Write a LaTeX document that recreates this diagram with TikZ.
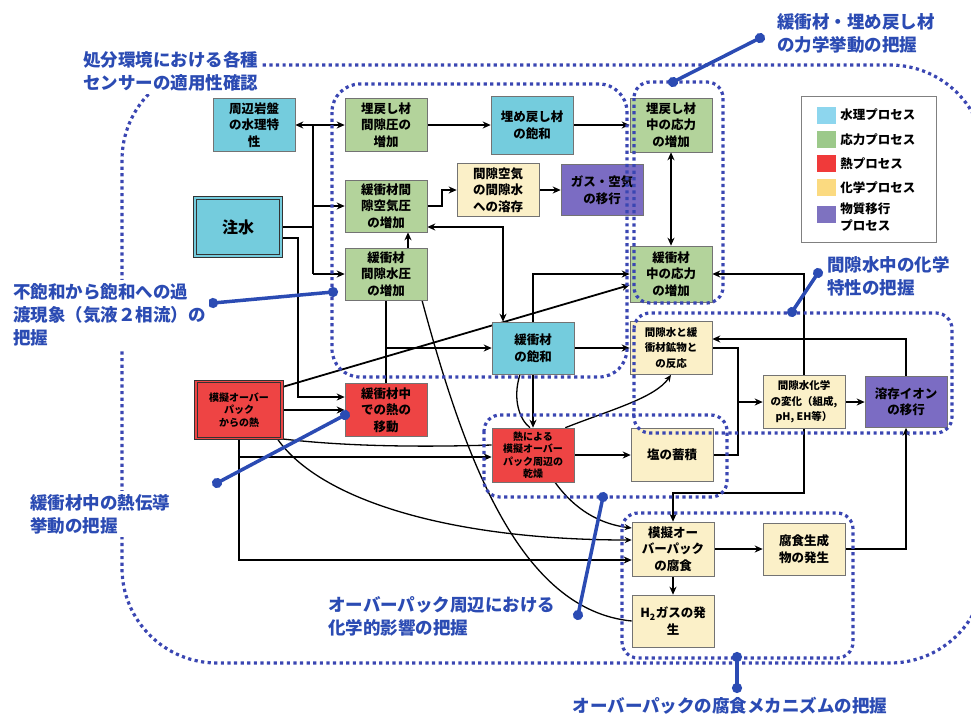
\documentclass[tikz,border=0pt]{standalone}
\usepackage{fontspec}
\setmainfont{Noto Sans CJK JP}
\usepackage{xcolor}
\usetikzlibrary{arrows.meta,backgrounds}

\definecolor{hydro}{HTML}{74CCDD}
\definecolor{mech}{HTML}{B3D39B}
\definecolor{heat}{HTML}{EE4444}
\definecolor{chemc}{HTML}{FBF0C8}
\definecolor{trans}{HTML}{7B6CC3}
\definecolor{keyhydro}{HTML}{8DD6EE}
\definecolor{keymech}{HTML}{9CC98A}
\definecolor{keyheat}{HTML}{F03A3A}
\definecolor{keychem}{HTML}{FBDA80}
\definecolor{keytrans}{HTML}{7E72C0}
\definecolor{dotblue}{HTML}{3A46B2}
\definecolor{labblue}{HTML}{2B4BB3}

\begin{document}
\begin{tikzpicture}[x=1pt,y=-1pt,
    proc/.style={draw=black!55, line width=0.6pt, minimum width=82pt, minimum height=53pt,
      inner sep=1pt, align=center, font=\fontsize{12.5}{16.5}\selectfont\bfseries},
    smalltxt/.style={font=\fontsize{10}{12.5}\selectfont\bfseries},
    lab/.style={fill=white, text=labblue, align=left, inner sep=3pt,
      font=\fontsize{17.5}{23}\selectfont\bfseries},
    conn/.style={line width=1.8pt},
    curv/.style={line width=1.3pt},
    arr/.style={conn, -{Stealth[length=8pt,width=7pt]}},
    darr/.style={conn, {Stealth[length=8pt,width=7pt]}-{Stealth[length=8pt,width=7pt]}},
    region/.style={draw=dotblue, line width=3.2pt, dash pattern=on 3.2pt off 3.4pt},
    pointer/.style={draw=labblue, line width=3.5pt, {Circle[length=10pt]}-{Circle[length=10pt]},
      shorten <=-5pt, shorten >=-5pt}]
\useasboundingbox (0,0) rectangle (971,718);

% processes
\node[proc, fill=hydro] (rock) at (254,125) {周辺岩盤\\の水理特\\性};
\node[proc, fill=hydro, minimum width=86pt, minimum height=58pt, draw=black!80, line width=0.8pt,
  double=hydro, double distance=1.5pt, font=\fontsize{16}{18}\selectfont\bfseries] (inj) at (238,227) {注水};
\node[proc, fill=mech] (bfpre) at (386,125) {埋戻し材\\間隙圧の\\増加};
\node[proc, fill=hydro, minimum height=58pt] (bfsat) at (532,125) {埋め戻し材\\の飽和};
\node[proc, fill=mech, minimum height=52pt] (bapre) at (386,206) {緩衝材間\\隙空気圧\\の増加};
\node[proc, fill=chemc] (diss) at (498,190) {間隙空気\\の間隙水\\への溶存};
\node[proc, fill=trans, minimum height=51pt] (gas) at (602,190) {ガス・空気\\の移行};
\node[proc, fill=mech, minimum height=52pt] (bwpre) at (386,274) {緩衝材\\間隙水圧\\の増加};
\node[proc, fill=mech, minimum height=54pt] (bfstr) at (671,125) {埋戻し材\\中の応力\\の増加};
\node[proc, fill=mech, minimum height=56pt] (bstr) at (671,274) {緩衝材\\中の応力\\の増加};
\node[proc, fill=hydro, minimum height=52pt] (bsat) at (533,348) {緩衝材\\の飽和};
\node[proc, fill=chemc, font=\fontsize{10.5}{15.5}\selectfont\bfseries] (react) at (671,348) {間隙水と緩\\衝材鉱物と\\の反応};
\node[proc, fill=heat, smalltxt, minimum width=86pt, minimum height=57pt, draw=black!80, line width=0.8pt,
  double=heat, double distance=1.5pt] (opheat) at (239,410) {模擬オーバー\\パック\\からの熱};
\node[proc, fill=heat] (bheat) at (386,410) {緩衝材中\\での熱の\\移動};
\node[proc, fill=heat, smalltxt, minimum height=54pt] (dry) at (533,455) {熱による\\模擬オーバー\\パック周辺の\\乾燥};
\node[proc, fill=chemc] (salt) at (672,455) {塩の蓄積};
\node[proc, fill=chemc, font=\fontsize{10.5}{15.5}\selectfont\bfseries] (chem) at (804,402) {間隙水化学\\の変化（組成,\\pH, EH等）};
\node[proc, fill=trans, minimum height=51pt] (ion) at (906,402) {溶存イオン\\の移行};
\node[proc, fill=chemc, minimum height=54pt] (corr) at (673,549) {模擬オー\\バーパック\\の腐食};
\node[proc, fill=chemc, minimum height=52pt] (prod) at (804,549) {腐食生成\\物の発生};
\node[proc, fill=chemc, minimum height=52pt] (htwo) at (673,621) {H\textsubscript{2}ガスの発\\生};

% legend
\node[draw=black!50, line width=0.6pt, minimum width=135pt, minimum height=146pt] (key) at (868.5,169) {};
\foreach \c/\t [count=\i] in {keyhydro/水理プロセス, keymech/応力プロセス, keyheat/熱プロセス, keychem/化学プロセス}{
  \node[fill=\c, minimum width=19pt, minimum height=17pt, inner sep=0pt] (sw\i) at (826.5,{115+24.3*(\i-1)}) {};
  \node[anchor=west, inner sep=2pt, font=\fontsize{12.5}{15}\selectfont\bfseries] at ([xshift=2pt]sw\i.east) {\t};
}
\node[fill=keytrans, minimum width=19pt, minimum height=17pt, inner sep=0pt] (sw5) at (826.5,214) {};
\node[anchor=north west, inner sep=2pt, align=left, font=\fontsize{12.5}{17}\selectfont\bfseries]
  at ([xshift=2pt,yshift=5pt]sw5.north east) {物質移行\\プロセス};

\begin{scope}[on background layer]
% water injection
\coordinate (trk) at (313,227);
\draw[conn] (inj.east) -- (trk);
\draw[conn] (trk |- rock.east) -- (trk |- bwpre.west);
\draw[arr] (trk |- rock.east) -- (rock.east);
\draw[arr] (trk |- bfpre.west) -- (bfpre.west);
\draw[arr] (trk |- bapre.west) -- (bapre.west);
\draw[arr] (trk |- bwpre.west) -- (bwpre.west);
\draw[arr] ([yshift=-11pt]inj.east) -| ([xshift=-47pt,yshift=13pt]bheat.west) -- ([yshift=13pt]bheat.west);

% heat from the overpack
\draw[arr] (opheat.east) -- (bheat.west);
\draw[arr] ([yshift=23pt]opheat.east) -- ([yshift=-11pt]bstr.west);
\draw[arr] (opheat.south) |- ([yshift=-11pt]corr.west);
\draw[arr] ([yshift=-18pt]opheat.south) -- ([yshift=-2pt]dry.west);
\draw[curv] (opheat.south east) .. controls (350,447) and (430,447) .. ([yshift=10pt]dry.west);
\draw[curv, -{Stealth[length=7pt,width=6pt]}] ([xshift=-5pt]opheat.south east) .. controls (320,500) and (450,540) .. ([yshift=9pt]corr.west);

% buffer and backfill
\draw[conn] (bwpre.south) -- (bheat.north);
\draw[arr] (bwpre.south |- bsat.west) -- (bsat.west);
\draw[arr] ([xshift=22pt]bwpre.north) -- ([xshift=22pt]bapre.south);
\draw[darr] ([yshift=-21pt]bapre.east) -| ([xshift=-30pt]bsat.north);
\draw[arr] (bsat.north) |- (bstr.west);
\draw[arr] (bfpre.east) -- (bfsat.west);
\draw[arr] (bfsat.east) -- (bfstr.west);
\draw[darr] (bfstr.south) -- (bstr.north);
\draw[arr] (bapre.east) -- ++(15,0) |- (diss.west);
\draw[arr] (diss.east) -- (gas.west);
\draw[arr] (bsat.east) -- (react.west);
\draw[arr] (bsat.south) -- (dry.north);
\draw[curv] ([xshift=-13pt]bsat.south) .. controls (512,400) and (520,420) .. ([xshift=-3pt]dry.north);
\draw[curv] ([xshift=36pt]bwpre.south) .. controls (465,460) and (520,610) .. (htwo.west);

% pore water chemistry
\draw[arr] (dry.east) -- (salt.west);
\draw[curv, -{Stealth[length=7pt,width=6pt]}] ([xshift=-9pt]dry.north east) .. controls (610,410) and (655,398) .. (react.south);
\draw[curv, -{Stealth[length=7pt,width=6pt]}] ([xshift=22pt]dry.south) .. controls (575,510) and (600,524) .. ([yshift=21pt]corr.west);
\coordinate (jc) at (738,402);
\draw[conn] (react.east) -| (jc);
\draw[conn] (salt.east) -| (jc);
\draw[arr] (jc) -- (chem.west);
\draw[arr] (chem.east) -- (ion.west);
\draw[arr] (ion.north) |- ([yshift=9pt]react.east);
\draw[arr] (chem.north) |- (bstr.east);
\draw[arr] (chem.south) |- ([yshift=29pt]corr.north) -- (corr.north);

% corrosion
\draw[arr] (corr.east) -- (prod.west);
\draw[arr] (corr.south) -- (htwo.north);
\draw[arr] (prod.east) -| (ion.south);
\end{scope}

% study areas
\draw[region, rounded corners=95pt] (122,65) rectangle (985,663);
\draw[region, rounded corners=28pt] (332,84) rectangle (627,377);
\draw[region, rounded corners=16pt] (634,82) rectangle (723,303);
\draw[region, rounded corners=16pt] (634,313) rectangle (952,433);
\draw[region, rounded corners=16pt] (484,415) rectangle (727,497);
\draw[region, rounded corners=16pt] (622,513) rectangle (853,658);

% callouts
\coordinate (mechA) at (673,82);   \coordinate (mechB) at (760,38);
\coordinate (unsatA) at (333,292); \coordinate (unsatB) at (213,303);
\coordinate (condA) at (345,415);  \coordinate (condB) at (217,483);
\coordinate (pwA) at (792,312);    \coordinate (pwB) at (818,273);
\coordinate (opA) at (603,497);    \coordinate (opB) at (578,615);
\coordinate (corrA) at (737,657);  \coordinate (corrB) at (737,688);
\draw[pointer] (mechA) -- (mechB);
\draw[pointer] (unsatA) -- (unsatB);
\draw[pointer] (condA) -- (condB);
\draw[pointer] (pwA) -- (pwB);
\draw[pointer] (opA) -- (opB);
\draw[pointer] (corrA) -- (corrB);

\node[lab, anchor=north west] (sensor) at (80,48) {処分環境における各種\\センサーの適用性確認};
\node[lab, anchor=north west] (mechlab) at (774,10) {緩衝材・埋め戻し材\\の力学挙動の把握};
\node[lab, anchor=north west] (unsatlab) at (10,280) {不飽和から飽和への過\\渡現象（気液２相流）の\\把握};
\node[lab, anchor=north west] (pwlab) at (824,253) {間隙水中の化学\\特性の把握};
\node[lab, anchor=north west] (condlab) at (27,491) {緩衝材中の熱伝導\\挙動の把握};
\node[lab, anchor=north west] (oplab) at (325,593) {オーバーパック周辺における\\化学的影響の把握};
\node[lab, anchor=north] (corrlab) at (730,694) {オーバーパックの腐食メカニズムの把握};
\end{tikzpicture}
\end{document}
